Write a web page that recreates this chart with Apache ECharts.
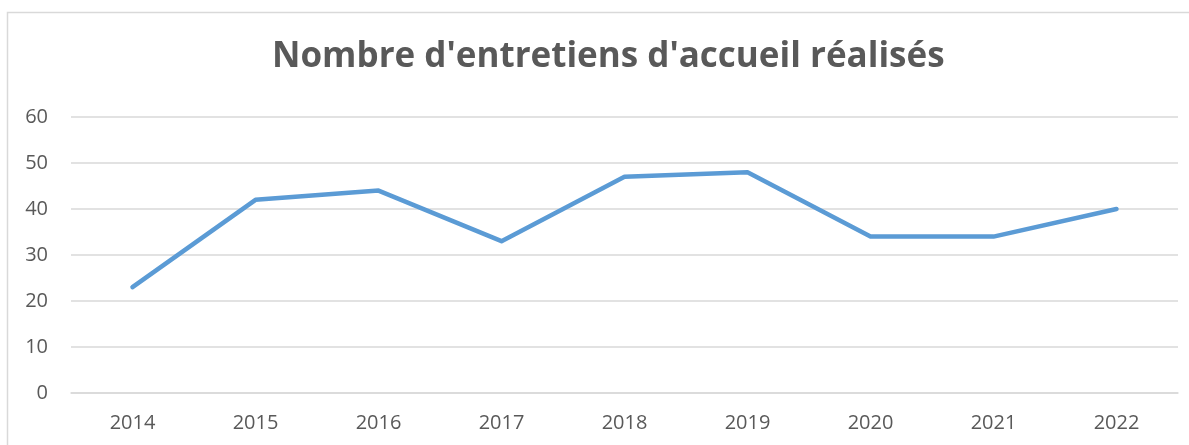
<!DOCTYPE html>
<html>
<head>
<meta charset="utf-8">
<title>Nombre d'entretiens d'accueil réalisés</title>
<script src="https://cdn.jsdelivr.net/npm/echarts@6/dist/echarts.min.js"></script>
<style>
html, body {
	margin: 0;
	padding: 0;
	background: #fff;
}
#chart {
	width: 1189px;
	height: 445px;
}
</style>
</head>
<body>
<div id="chart"></div>
<script type="text/javascript">
    // données
    var years = ['2014', '2015', '2016', '2017', '2018', '2019', '2020', '2021', '2022'];
    var entretiens = [23, 42, 44, 33, 47, 48, 34, 34, 40];

    var myChart = echarts.init(document.getElementById('chart'));

    var option = {
        animation: false,
        backgroundColor: '#fff',
        // cadre du graphique
        graphic: [{
            type: 'rect',
            shape: {x: 7.5, y: 12.5, width: 1200, height: 460},
            style: {fill: 'none', stroke: '#d9d9d9', lineWidth: 1.5},
            silent: true
        }],
        title: {
            text: "Nombre d'entretiens d'accueil réalisés",
            left: 267,
            top: 35,
            textStyle: {
                fontFamily: 'Open Sans',
                fontSize: 35,
                fontWeight: 'bold',
                color: '#595959'
            }
        },
        grid: {left: 71, right: 11, top: 117, bottom: 52},
        xAxis: {
            type: 'category',
            data: years,
            axisLine: {lineStyle: {color: '#d9d9d9', width: 1.5}},
            axisTick: {show: false},
            axisLabel: {
                margin: 20,
                fontFamily: 'Open Sans',
                fontSize: 20,
                color: '#595959'
            }
        },
        yAxis: {
            type: 'value',
            min: 0,
            max: 60,
            interval: 10,
            axisLine: {show: false},
            axisTick: {show: false},
            splitLine: {lineStyle: {color: '#d9d9d9', width: 1.5}},
            axisLabel: {
                margin: 23,
                fontFamily: 'Open Sans',
                fontSize: 20,
                color: '#595959'
            }
        },
        series: [{
            type: 'line',
            data: entretiens,
            showSymbol: false,
            lineStyle: {color: '#5b9bd5', width: 4.5, cap: 'round', join: 'round'}
        }]
    };

    myChart.setOption(option);
</script>
</body>
</html>
